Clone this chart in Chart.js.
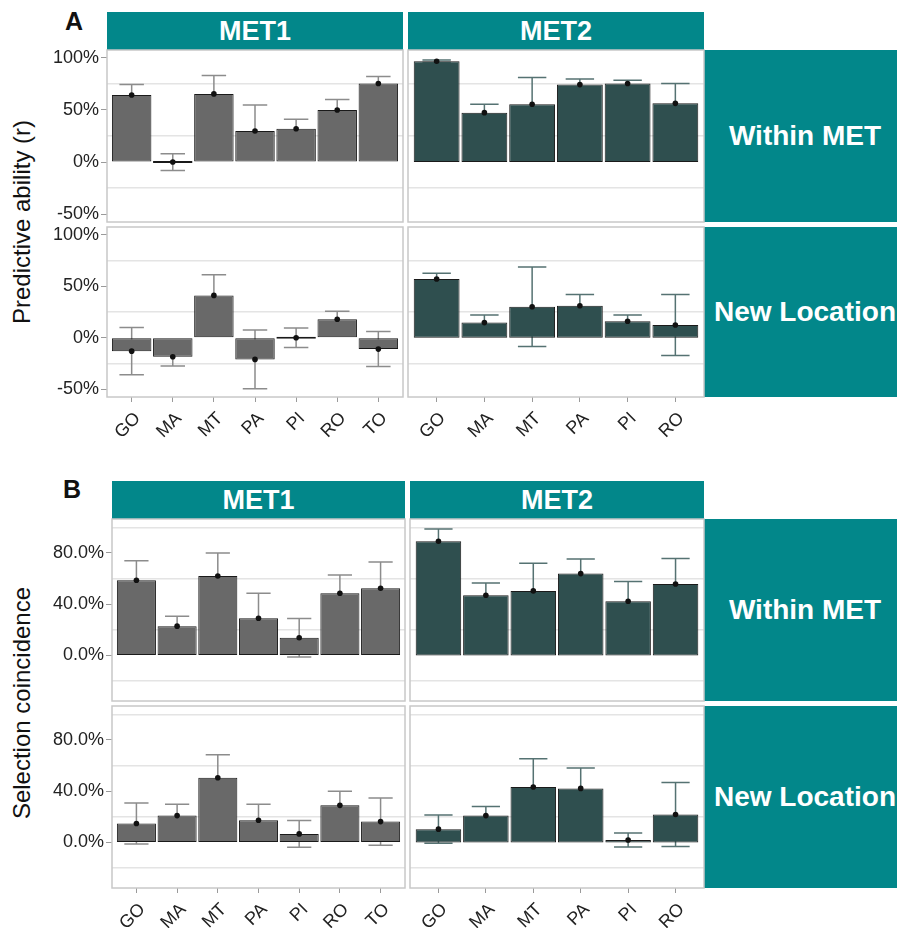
<!DOCTYPE html>
<html>
<head>
<meta charset="utf-8">
<script src="https://cdn.jsdelivr.net/npm/chart.js@4"></script>
<style>
  html, body { margin: 0; padding: 0; background: #fff; }
  body { width: 897px; height: 928px; position: relative; overflow: hidden; font-family: "Liberation Sans", Arial, sans-serif; }
  .strip { position: absolute; background: #02878a; color: #fff; font-weight: bold; display: flex; align-items: center; justify-content: center; white-space: nowrap; }
  .lbl { position: absolute; transform: translate(-50%, -50%); white-space: nowrap; color: #111; }
  canvas { position: absolute; }
</style>
</head>
<body>
<script>
// sites per MET
const met1Sites = ["GO", "MA", "MT", "PA", "PI", "RO", "TO"];
const met2Sites = ["GO", "MA", "MT", "PA", "PI", "RO"];

// A: predictive ability (%), mean and sd
const paMet1Within = [64.4, 0, 65.4, 29.8, 32, 50, 75.3];
const paMet1WithinSd = [10, 8, 17.6, 25, 9, 10, 6.7];
const paMet2Within = [96.7, 47.4, 55.4, 74.3, 75.3, 56.3];
const paMet2WithinSd = [1.3, 8, 25.7, 5.5, 3.3, 19];
const paMet1New = [-13, -18.5, 41.1, -21, 0, 18, -11];
const paMet1NewSd = [23, 9, 20, 28.5, 9.5, 7.7, 17];
const paMet2New = [57.1, 14.7, 30.1, 31, 16, 12.4];
const paMet2NewSd = [5.6, 7.4, 38.5, 11, 6, 29.5];

// B: selection coincidence (%), mean and sd
const scMet1Within = [58.7, 22.9, 62, 29.1, 13.8, 48.6, 52.5];
const scMet1WithinSd = [15.3, 7.7, 18, 19.5, 15, 14.3, 20.5];
const scMet2Within = [89.1, 47, 50.4, 63.9, 42.3, 55.8];
const scMet2WithinSd = [9.6, 9.6, 21.6, 11.4, 15.4, 19.8];
const scMet1New = [14.8, 21, 50.5, 17.4, 6.7, 29, 16.3];
const scMet1NewSd = [16, 8.8, 18, 12.4, 10.5, 10.9, 18.5];
const scMet2New = [10.4, 21, 43.3, 42.2, 2, 21.8];
const scMet2NewSd = [11, 7, 22, 16, 5.5, 25];

// axis ticks
const paTicks = [-50, 0, 50, 100];
const paMinor = [-25, 25, 75];
const scTicks = [0, 40, 80];
const scMinor = [-20, 20, 60, 100];

const M = 20, YW = 70, XH = 50;
const MET1_FILL = "#696969", MET2_FILL = "#2f4f4f";
const MET1_ERR = "#8c8c8c", MET2_ERR = "#557272";

Chart.defaults.font.family = "'Liberation Sans', Arial, sans-serif";

// 평균 ± sd 에러바 (막대 뒤에 그림)
const errorBars = {
    id: "errorBars",
    beforeDatasetsDraw(chart) {
        const ds = chart.data.datasets[1];
        const meta = chart.getDatasetMeta(1);
        const y = chart.scales.y;
        const ctx = chart.ctx;
        ctx.save();
        ctx.strokeStyle = ds.errColor;
        ctx.lineWidth = 1.5;
        meta.data.forEach((bar, i) => {
            const v = ds.data[i].y, e = ds.errors[i];
            const top = y.getPixelForValue(v + e);
            const bot = y.getPixelForValue(v - e);
            const hw = bar.width * 0.31;
            ctx.beginPath();
            ctx.moveTo(bar.x, top); ctx.lineTo(bar.x, bot);
            ctx.moveTo(bar.x - hw, top); ctx.lineTo(bar.x + hw, top);
            ctx.moveTo(bar.x - hw, bot); ctx.lineTo(bar.x + hw, bot);
            ctx.stroke();
        });
        ctx.restore();
    }
};

// 패널 테두리
const frame = {
    id: "frame",
    afterDatasetsDraw(chart) {
        const a = chart.chartArea;
        const ctx = chart.ctx;
        ctx.save();
        ctx.strokeStyle = "#c8c8c8";
        ctx.lineWidth = 1.5;
        ctx.strokeRect(a.left, a.top, a.right - a.left, a.bottom - a.top);
        ctx.restore();
    }
};

function addStrip(text, x, y, w, h, size) {
    const d = document.createElement("div");
    d.className = "strip";
    Object.assign(d.style, { left: x + "px", top: y + "px", width: w + "px", height: h + "px", fontSize: size + "px" });
    d.textContent = text;
    document.body.appendChild(d);
}

function addLabel(text, cx, cy, size, bold, rotate) {
    const d = document.createElement("div");
    d.className = "lbl";
    d.style.left = cx + "px";
    d.style.top = cy + "px";
    d.style.fontSize = size + "px";
    d.style.fontWeight = bold ? "bold" : "normal";
    if (rotate) d.style.transform = "translate(-50%,-50%) rotate(-90deg)";
    d.textContent = text;
    document.body.appendChild(d);
}

function panel(o) {
    const yw = o.showY ? YW : 0;
    const xh = o.showX ? XH : 0;
    const cv = document.createElement("canvas");
    cv.width = M + yw + o.w + M;
    cv.height = M + o.h + xh + M;
    cv.style.left = (o.x - M - yw) + "px";
    cv.style.top = (o.y - M) + "px";
    document.body.appendChild(cv);

    // 카테고리 인덱스를 x 값으로 (ggplot 식 0.6 여백)
    const pts = o.values.map((v, i) => ({ x: i, y: v }));
    const n = o.labels.length;
    const tickFont = { size: 18 };
    return new Chart(cv, {
        type: "bar",
        data: {
            datasets: [
                {
                    type: "line", data: pts, showLine: false, order: 0,
                    pointRadius: 2.8, pointBackgroundColor: "#111", pointBorderWidth: 0
                },
                {
                    type: "bar", data: pts, order: 1,
                    backgroundColor: o.fill, borderColor: "#1a1a1a", borderWidth: 1,
                    borderSkipped: false, barPercentage: 0.96, categoryPercentage: 1, minBarLength: 2,
                    errors: o.sd, errColor: o.err
                }
            ]
        },
        options: {
            responsive: false,
            animation: false,
            events: [],
            layout: { padding: { top: M, left: M, right: M, bottom: M } },
            plugins: { legend: { display: false }, tooltip: { enabled: false } },
            scales: {
                x: {
                    type: "linear",
                    display: o.showX,
                    min: -0.6, max: n - 0.4,
                    offset: false,
                    afterBuildTicks: s => { s.ticks = o.labels.map((_, i) => ({ value: i })); },
                    grid: { display: true, offset: false, drawOnChartArea: false, tickLength: 5, color: "#9a9a9a" },
                    border: { display: false },
                    ticks: {
                        autoSkip: false, maxRotation: 45, minRotation: 45, padding: 6, labelOffset: 6,
                        color: "#222", font: tickFont, callback: v => o.labels[v]
                    },
                    afterFit: s => { s.height = xh; }
                },
                y: {
                    display: o.showY,
                    min: o.min, max: o.max,
                    afterBuildTicks: s => { s.ticks = o.ticks.map(v => ({ value: v })); },
                    grid: { drawOnChartArea: false, tickLength: 6, color: "#9a9a9a" },
                    border: { display: false },
                    ticks: { callback: o.fmt, padding: 2, color: "#222", font: tickFont },
                    afterFit: s => { s.width = yw; }
                },
                yg: {
                    position: "right",
                    min: o.min, max: o.max,
                    afterBuildTicks: s => { s.ticks = o.minor.map(v => ({ value: v })); },
                    grid: { color: "#e4e4e4", lineWidth: 1.5, drawTicks: false },
                    border: { display: false },
                    ticks: { display: false },
                    afterFit: s => { s.width = 0; }
                }
            }
        },
        plugins: [errorBars, frame]
    });
}

const paFmt = v => v + "%";
const scFmt = v => v.toFixed(1) + "%";
const paRange = { min: -57.5, max: 107.5, ticks: paTicks, minor: paMinor, fmt: paFmt };
const scRange = { min: -35.5, max: 106.5, ticks: scTicks, minor: scMinor, fmt: scFmt };

// ---- A ----
addLabel("A", 74, 21, 25, true);
addStrip("MET1", 107, 12, 296, 38, 27);
addStrip("MET2", 408, 12, 296, 38, 27);
addStrip("Within MET", 704, 50, 202, 172, 28);
addStrip("New Location", 704, 227, 202, 170, 28);
addLabel("Predictive ability (r)", 22, 222, 24, false, true);

panel({ ...paRange, x: 107, y: 50, w: 296, h: 172, showY: true, showX: false, labels: met1Sites, values: paMet1Within, sd: paMet1WithinSd, fill: MET1_FILL, err: MET1_ERR });
panel({ ...paRange, x: 408, y: 50, w: 296, h: 172, showY: false, showX: false, labels: met2Sites, values: paMet2Within, sd: paMet2WithinSd, fill: MET2_FILL, err: MET2_ERR });
panel({ ...paRange, x: 107, y: 227, w: 296, h: 170, showY: true, showX: true, labels: met1Sites, values: paMet1New, sd: paMet1NewSd, fill: MET1_FILL, err: MET1_ERR });
panel({ ...paRange, x: 408, y: 227, w: 296, h: 170, showY: false, showX: true, labels: met2Sites, values: paMet2New, sd: paMet2NewSd, fill: MET2_FILL, err: MET2_ERR });

// ---- B ----
addLabel("B", 72, 489, 25, true);
addStrip("MET1", 112, 481, 293, 38, 27);
addStrip("MET2", 410, 481, 294, 38, 27);
addStrip("Within MET", 704, 519, 202, 182, 28);
addStrip("New Location", 704, 706, 202, 182, 28);
addLabel("Selection coincidence", 22, 703, 24, false, true);

panel({ ...scRange, x: 112, y: 519, w: 293, h: 182, showY: true, showX: false, labels: met1Sites, values: scMet1Within, sd: scMet1WithinSd, fill: MET1_FILL, err: MET1_ERR });
panel({ ...scRange, x: 410, y: 519, w: 294, h: 182, showY: false, showX: false, labels: met2Sites, values: scMet2Within, sd: scMet2WithinSd, fill: MET2_FILL, err: MET2_ERR });
panel({ ...scRange, x: 112, y: 706, w: 293, h: 182, showY: true, showX: true, labels: met1Sites, values: scMet1New, sd: scMet1NewSd, fill: MET1_FILL, err: MET1_ERR });
panel({ ...scRange, x: 410, y: 706, w: 294, h: 182, showY: false, showX: true, labels: met2Sites, values: scMet2New, sd: scMet2NewSd, fill: MET2_FILL, err: MET2_ERR });
</script>
</body>
</html>
